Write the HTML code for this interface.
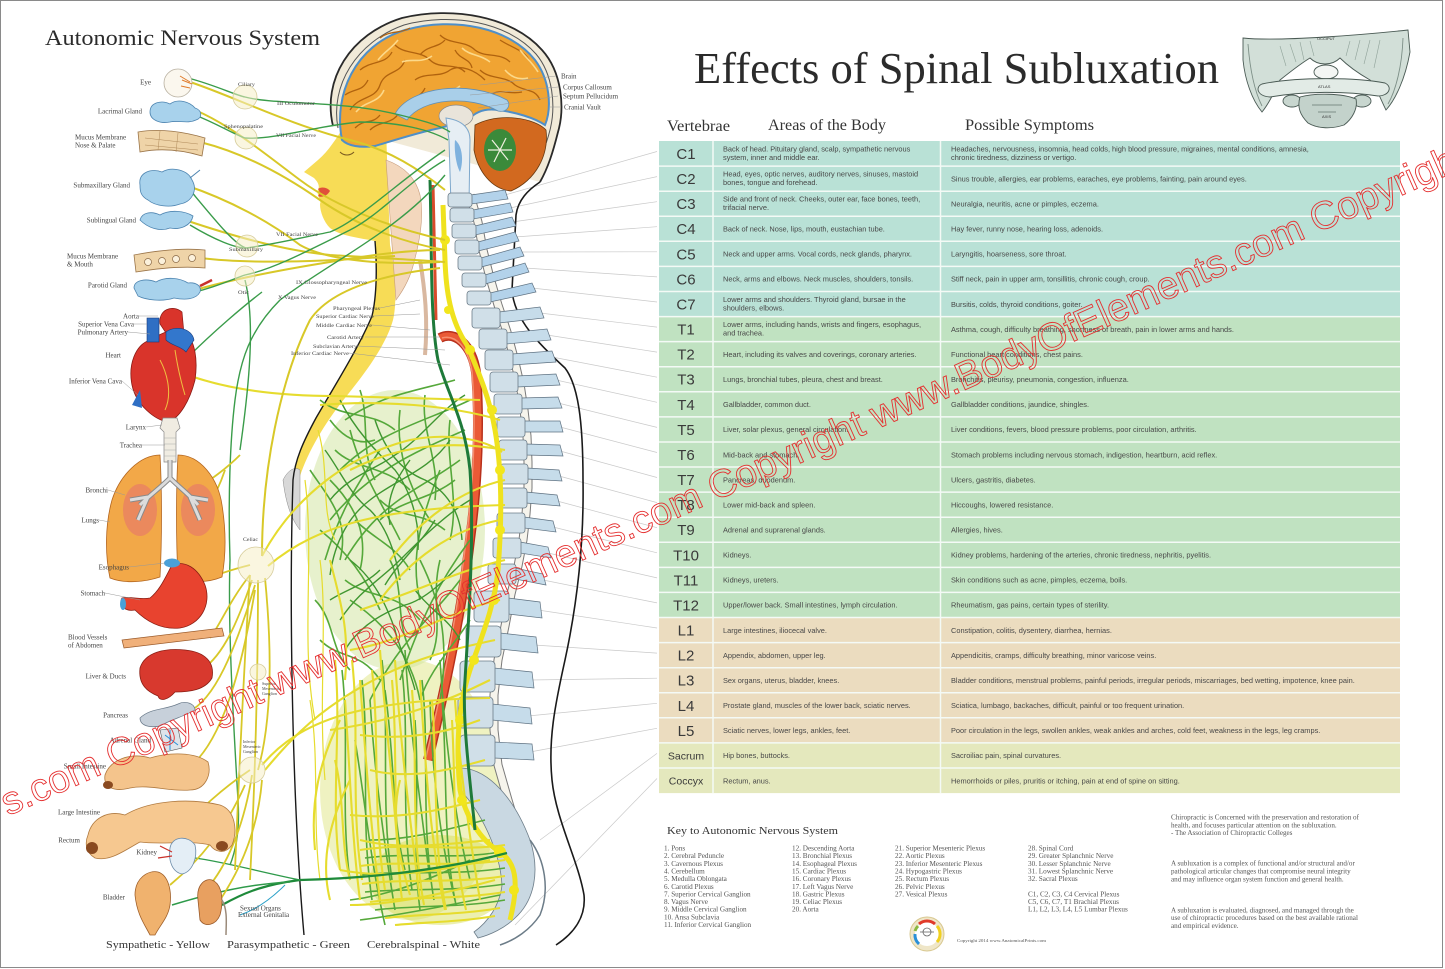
<!DOCTYPE html>
<html><head><meta charset="utf-8"><title>Effects of Spinal Subluxation</title>
<style>
html,body{margin:0;padding:0;background:#fff;}
svg{display:block;}
.sr{font-family:"Liberation Serif",serif;}
.ss{font-family:"Liberation Sans",sans-serif;}
</style></head><body>
<svg width="1445" height="969" viewBox="0 0 1445 969" xmlns="http://www.w3.org/2000/svg">
<rect x="0" y="0" width="1445" height="969" fill="#fff"/>
<rect x="0.5" y="0.5" width="1442" height="967" fill="none" stroke="#8a8a8a" stroke-width="1"/>

<!-- ============ RIGHT: TITLE ============ -->
<text class="sr" x="694" y="83" font-size="44" fill="#2b2b2b" textLength="525" lengthAdjust="spacingAndGlyphs">Effects of Spinal Subluxation</text>

<!-- skull (occiput/atlas/axis) -->
<g stroke="#4a5a54" stroke-width="0.9">
<path d="M1243,38 C1280,42 1370,34 1408,30 L1410,52 C1405,80 1395,100 1386,110 C1380,98 1376,86 1370,80 C1356,72 1346,64 1340,58 C1332,66 1318,66 1310,58 C1300,64 1290,72 1280,80 C1275,90 1270,102 1262,112 C1252,100 1245,80 1243,60 Z" fill="#d2dfd8"/>
<path d="M1248,44 C1250,70 1255,92 1262,106 M1403,38 C1402,66 1396,90 1388,104" fill="none" stroke="#7d8f87"/>
<g stroke="#90a39a" stroke-width="0.6" fill="none">
<path d="M1290,44 L1296,62 M1300,42 L1304,60 M1310,41 L1314,56 M1350,41 L1346,56 M1360,40 L1355,60 M1370,40 L1364,64 M1280,46 L1286,66 M1380,40 L1374,68"/>
</g>
<ellipse cx="1326" cy="72" rx="12" ry="7" fill="#f4f6f4"/>
<path d="M1262,84 C1295,77 1355,77 1385,83 C1393,87 1389,96 1378,96 C1345,91 1305,91 1270,97 C1257,96 1255,87 1262,84 Z" fill="#e2ebe6"/>
<ellipse cx="1292" cy="101" rx="9" ry="6" fill="#c8d6cf"/>
<ellipse cx="1362" cy="101" rx="9" ry="6" fill="#c8d6cf"/>
<path d="M1300,97 C1314,93 1342,93 1356,99 C1358,109 1352,119 1344,125 C1332,129 1318,129 1308,123 C1300,115 1297,107 1300,97 Z" fill="#c3d2cb"/>
<path d="M1312,105 L1342,105 M1318,112 L1336,112" stroke="#7d8f87" fill="none"/>
</g>
<text class="ss" x="1317" y="40" font-size="4" fill="#333">OCCIPUT</text>
<text class="ss" x="1318" y="88" font-size="4" fill="#333">ATLAS</text>
<text class="ss" x="1322" y="118" font-size="4" fill="#333">AXIS</text>

<!-- ============ TABLE HEADER ============ -->
<text class="sr" x="667" y="131" font-size="16" fill="#333" textLength="63" lengthAdjust="spacingAndGlyphs">Vertebrae</text>
<text class="sr" x="768" y="130" font-size="16" fill="#333" textLength="118" lengthAdjust="spacingAndGlyphs">Areas of the Body</text>
<text class="sr" x="965" y="130" font-size="16" fill="#333" textLength="129" lengthAdjust="spacingAndGlyphs">Possible Symptoms</text>

<!-- ============ TABLE ROWS ============ -->
<g>
<rect x="659" y="141" width="741" height="175.6" fill="#b9e1d6"/>
<rect x="659" y="316.6" width="741" height="300.9" fill="#c0e2c1"/>
<rect x="659" y="617.5" width="741" height="125.4" fill="#ebdcbf"/>
<rect x="659" y="742.9" width="741" height="50.2" fill="#e4e8bd"/>
</g>
<g stroke="#f4faf6" stroke-width="1.5">
<line x1="659" y1="166.1" x2="1400" y2="166.1"/><line x1="659" y1="191.2" x2="1400" y2="191.2"/>
<line x1="659" y1="216.2" x2="1400" y2="216.2"/><line x1="659" y1="241.3" x2="1400" y2="241.3"/>
<line x1="659" y1="266.4" x2="1400" y2="266.4"/><line x1="659" y1="291.5" x2="1400" y2="291.5"/>
<line x1="659" y1="316.6" x2="1400" y2="316.6"/><line x1="659" y1="341.6" x2="1400" y2="341.6"/>
<line x1="659" y1="366.7" x2="1400" y2="366.7"/><line x1="659" y1="391.8" x2="1400" y2="391.8"/>
<line x1="659" y1="416.9" x2="1400" y2="416.9"/><line x1="659" y1="442.0" x2="1400" y2="442.0"/>
<line x1="659" y1="467.0" x2="1400" y2="467.0"/><line x1="659" y1="492.1" x2="1400" y2="492.1"/>
<line x1="659" y1="517.2" x2="1400" y2="517.2"/><line x1="659" y1="542.3" x2="1400" y2="542.3"/>
<line x1="659" y1="567.4" x2="1400" y2="567.4"/><line x1="659" y1="592.4" x2="1400" y2="592.4"/>
<line x1="659" y1="617.5" x2="1400" y2="617.5"/><line x1="659" y1="642.6" x2="1400" y2="642.6"/>
<line x1="659" y1="667.7" x2="1400" y2="667.7"/><line x1="659" y1="692.8" x2="1400" y2="692.8"/>
<line x1="659" y1="717.8" x2="1400" y2="717.8"/><line x1="659" y1="742.9" x2="1400" y2="742.9"/>
<line x1="659" y1="768.0" x2="1400" y2="768.0"/>
<line x1="713" y1="141" x2="713" y2="793"/><line x1="940.5" y1="141" x2="940.5" y2="793"/>
</g>

<!-- vertebra labels -->
<g class="ss" font-size="15" fill="#3a3a3a" text-anchor="middle">
<text x="686" y="159">C1</text><text x="686" y="184.1">C2</text><text x="686" y="209.2">C3</text>
<text x="686" y="234.2">C4</text><text x="686" y="259.3">C5</text><text x="686" y="284.4">C6</text>
<text x="686" y="309.5">C7</text><text x="686" y="334.6">T1</text><text x="686" y="359.6">T2</text>
<text x="686" y="384.7">T3</text><text x="686" y="409.8">T4</text><text x="686" y="434.9">T5</text>
<text x="686" y="460">T6</text><text x="686" y="485">T7</text><text x="686" y="510.1">T8</text>
<text x="686" y="535.2">T9</text><text x="686" y="560.3">T10</text><text x="686" y="585.4">T11</text>
<text x="686" y="610.4">T12</text><text x="686" y="635.5">L1</text><text x="686" y="660.6">L2</text>
<text x="686" y="685.7">L3</text><text x="686" y="710.8">L4</text><text x="686" y="735.8">L5</text>
<text x="686" y="759.5" font-size="10.5">Sacrum</text><text x="686" y="784.6" font-size="10.5">Coccyx</text>
</g>

<!-- areas of body -->
<g class="ss" font-size="7.4" fill="#484848">
<text x="723" y="151.5">Back of head. Pituitary gland, scalp, sympathetic nervous</text>
<text x="723" y="160">system, inner and middle ear.</text>
<text x="723" y="176.6">Head, eyes, optic nerves, auditory nerves, sinuses, mastoid</text>
<text x="723" y="185.1">bones, tongue and forehead.</text>
<text x="723" y="201.7">Side and front of neck. Cheeks, outer ear, face bones, teeth,</text>
<text x="723" y="210.2">trifacial nerve.</text>
<text x="723" y="231.5">Back of neck. Nose, lips, mouth, eustachian tube.</text>
<text x="723" y="256.6">Neck and upper arms. Vocal cords, neck glands, pharynx.</text>
<text x="723" y="281.7">Neck, arms and elbows. Neck muscles, shoulders, tonsils.</text>
<text x="723" y="302">Lower arms and shoulders. Thyroid gland, bursae in the</text>
<text x="723" y="310.5">shoulders, elbows.</text>
<text x="723" y="327.1">Lower arms, including hands, wrists and fingers, esophagus,</text>
<text x="723" y="335.6">and trachea.</text>
<text x="723" y="356.9">Heart, including its valves and coverings, coronary arteries.</text>
<text x="723" y="382">Lungs, bronchial tubes, pleura, chest and breast.</text>
<text x="723" y="407.1">Gallbladder, common duct.</text>
<text x="723" y="432.2">Liver, solar plexus, general circulation.</text>
<text x="723" y="457.3">Mid-back and stomach.</text>
<text x="723" y="482.3">Pancreas, duodenum.</text>
<text x="723" y="507.4">Lower mid-back and spleen.</text>
<text x="723" y="532.5">Adrenal and suprarenal glands.</text>
<text x="723" y="557.6">Kidneys.</text>
<text x="723" y="582.7">Kidneys, ureters.</text>
<text x="723" y="607.7">Upper/lower back. Small intestines, lymph circulation.</text>
<text x="723" y="632.8">Large intestines, iliocecal valve.</text>
<text x="723" y="657.9">Appendix, abdomen, upper leg.</text>
<text x="723" y="683">Sex organs, uterus, bladder, knees.</text>
<text x="723" y="708.1">Prostate gland, muscles of the lower back, sciatic nerves.</text>
<text x="723" y="733.1">Sciatic nerves, lower legs, ankles, feet.</text>
<text x="723" y="758.2">Hip bones, buttocks.</text>
<text x="723" y="783.3">Rectum, anus.</text>
</g>

<!-- symptoms -->
<g class="ss" font-size="7.4" fill="#484848">
<text x="951" y="151.5">Headaches, nervousness, insomnia, head colds, high blood pressure, migraines, mental conditions, amnesia,</text>
<text x="951" y="160">chronic tiredness, dizziness or vertigo.</text>
<text x="951" y="181.5">Sinus trouble, allergies, ear problems, earaches, eye problems, fainting, pain around eyes.</text>
<text x="951" y="206.6">Neuralgia, neuritis, acne or pimples, eczema.</text>
<text x="951" y="231.5">Hay fever, runny nose, hearing loss, adenoids.</text>
<text x="951" y="256.6">Laryngitis, hoarseness, sore throat.</text>
<text x="951" y="281.7">Stiff neck, pain in upper arm, tonsillitis, chronic cough, croup.</text>
<text x="951" y="306.8">Bursitis, colds, thyroid conditions, goiter.</text>
<text x="951" y="331.9">Asthma, cough, difficulty breathing, shortness of breath, pain in lower arms and hands.</text>
<text x="951" y="356.9">Functional heart conditions, chest pains.</text>
<text x="951" y="382">Bronchitis, pleurisy, pneumonia, congestion, influenza.</text>
<text x="951" y="407.1">Gallbladder conditions, jaundice, shingles.</text>
<text x="951" y="432.2">Liver conditions, fevers, blood pressure problems, poor circulation, arthritis.</text>
<text x="951" y="457.3">Stomach problems including nervous stomach, indigestion, heartburn, acid reflex.</text>
<text x="951" y="482.3">Ulcers, gastritis, diabetes.</text>
<text x="951" y="507.4">Hiccoughs, lowered resistance.</text>
<text x="951" y="532.5">Allergies, hives.</text>
<text x="951" y="557.6">Kidney problems, hardening of the arteries, chronic tiredness, nephritis, pyelitis.</text>
<text x="951" y="582.7">Skin conditions such as acne, pimples, eczema, boils.</text>
<text x="951" y="607.7">Rheumatism, gas pains, certain types of sterility.</text>
<text x="951" y="632.8">Constipation, colitis, dysentery, diarrhea, hernias.</text>
<text x="951" y="657.9">Appendicitis, cramps, difficulty breathing, minor varicose veins.</text>
<text x="951" y="683">Bladder conditions, menstrual problems, painful periods, irregular periods, miscarriages, bed wetting, impotence, knee pain.</text>
<text x="951" y="708.1">Sciatica, lumbago, backaches, difficult, painful or too frequent urination.</text>
<text x="951" y="733.1">Poor circulation in the legs, swollen ankles, weak ankles and arches, cold feet, weakness in the legs, leg cramps.</text>
<text x="951" y="758.2">Sacroiliac pain, spinal curvatures.</text>
<text x="951" y="783.3">Hemorrhoids or piles, pruritis or itching, pain at end of spine on sitting.</text>
</g>

<!-- ============ KEY ============ -->
<text class="sr" x="667" y="834" font-size="10.5" fill="#333" textLength="171" lengthAdjust="spacingAndGlyphs">Key to Autonomic Nervous System</text>
<g class="sr" font-size="7.2" fill="#555">
<text x="664" y="850.5">1. Pons</text>
<text x="664" y="858.2">2. Cerebral Peduncle</text>
<text x="664" y="865.8">3. Cavernous Plexus</text>
<text x="664" y="873.5">4. Cerebellum</text>
<text x="664" y="881.1">5. Medulla Oblongata</text>
<text x="664" y="888.8">6. Carotid Plexus</text>
<text x="664" y="896.4">7. Superior Cervical Ganglion</text>
<text x="664" y="904.1">8. Vagus Nerve</text>
<text x="664" y="911.7">9. Middle Cervical Ganglion</text>
<text x="664" y="919.4">10. Ansa Subclavia</text>
<text x="664" y="927">11. Inferior Cervical Ganglion</text>
<text x="792" y="850.5">12. Descending Aorta</text>
<text x="792" y="858.2">13. Bronchial Plexus</text>
<text x="792" y="865.8">14. Esophageal Plexus</text>
<text x="792" y="873.5">15. Cardiac Plexus</text>
<text x="792" y="881.1">16. Coronary Plexus</text>
<text x="792" y="888.8">17. Left Vagus Nerve</text>
<text x="792" y="896.4">18. Gastric Plexus</text>
<text x="792" y="904.1">19. Celiac Plexus</text>
<text x="792" y="911.7">20. Aorta</text>
<text x="895" y="850.5">21. Superior Mesenteric Plexus</text>
<text x="895" y="858.2">22. Aortic Plexus</text>
<text x="895" y="865.8">23. Inferior Mesenteric Plexus</text>
<text x="895" y="873.5">24. Hypogastric Plexus</text>
<text x="895" y="881.1">25. Rectum Plexus</text>
<text x="895" y="888.8">26. Pelvic Plexus</text>
<text x="895" y="896.4">27. Vesical Plexus</text>
<text x="1028" y="850.5">28. Spinal Cord</text>
<text x="1028" y="858.2">29. Greater Splanchnic Nerve</text>
<text x="1028" y="865.8">30. Lesser Splanchnic Nerve</text>
<text x="1028" y="873.5">31. Lowest Splanchnic Nerve</text>
<text x="1028" y="881.1">32. Sacral Plexus</text>
<text x="1028" y="896.4">C1, C2, C3, C4 Cervical Plexus</text>
<text x="1028" y="904.1">C5, C6, C7, T1 Brachial Plexus</text>
<text x="1028" y="911.7">L1, L2, L3, L4, L5 Lumbar Plexus</text>
</g>
<!-- logo -->
<g>
<circle cx="927" cy="934" r="17" fill="#efe6c8" stroke="#d8c890" stroke-width="1"/>
<circle cx="927" cy="934" r="12" fill="#fff"/>
<path d="M919,924 A12,12 0 0 1 935,924" stroke="#e03a2a" stroke-width="3" fill="none"/>
<path d="M937,926 A12,12 0 0 1 937,942" stroke="#f0d020" stroke-width="3" fill="none"/>
<path d="M919,944 A12,12 0 0 1 915,934" stroke="#2a90d8" stroke-width="3" fill="none"/>
<path d="M915,931 A12,12 0 0 1 918,926" stroke="#8ab840" stroke-width="3" fill="none"/>
<circle cx="927" cy="932" r="4" fill="none" stroke="#666" stroke-width="0.8"/>
<line x1="920" y1="932" x2="934" y2="932" stroke="#666" stroke-width="0.8"/>
</g>
<text class="sr" x="957" y="942" font-size="4.2" fill="#555" textLength="89" lengthAdjust="spacingAndGlyphs">Copyright 2014 www.AnatomicalPrints.com</text>

<!-- right notes -->
<g class="sr" font-size="7.1" fill="#555">
<text x="1171" y="819.6">Chiropractic is Concerned with the preservation and restoration of</text>
<text x="1171" y="827.3">health, and focuses particular attention on the subluxation.</text>
<text x="1171" y="835.2">- The Association of Chiropractic Colleges</text>
<text x="1171" y="865.6">A subluxation is a complex of functional and/or structural and/or</text>
<text x="1171" y="873.5">pathological articular changes that compromise neural integrity</text>
<text x="1171" y="881.3">and may influence organ system function and general health.</text>
<text x="1171" y="912.3">A subluxation is evaluated, diagnosed, and managed through the</text>
<text x="1171" y="920.2">use of chiropractic procedures based on the best available rational</text>
<text x="1171" y="928.2">and empirical evidence.</text>
</g>

<!-- ============ LEFT ILLUSTRATION ============ -->
<text class="sr" x="45" y="45" font-size="22" fill="#2b2b2b" textLength="275" lengthAdjust="spacingAndGlyphs">Autonomic Nervous System</text>

<!-- leader lines spine to table -->
<g stroke="#c9c9c9" stroke-width="0.7" fill="none">
<line x1="505" y1="195" x2="657" y2="151.5"/>
<line x1="510" y1="208" x2="657" y2="176.6"/>
<line x1="512" y1="222" x2="657" y2="201.7"/>
<line x1="515" y1="237" x2="657" y2="226.7"/>
<line x1="520" y1="252" x2="657" y2="251.8"/>
<line x1="525" y1="268" x2="657" y2="276.9"/>
<line x1="532" y1="288" x2="657" y2="302"/>
<line x1="540" y1="313" x2="657" y2="327.1"/>
<line x1="547" y1="335" x2="657" y2="352.1"/>
<line x1="552" y1="357" x2="657" y2="377.2"/>
<line x1="556" y1="380" x2="657" y2="402.3"/>
<line x1="558" y1="403" x2="657" y2="427.4"/>
<line x1="560" y1="427" x2="657" y2="452.5"/>
<line x1="560" y1="451" x2="657" y2="477.5"/>
<line x1="559" y1="476" x2="657" y2="502.6"/>
<line x1="557" y1="501" x2="657" y2="527.7"/>
<line x1="553" y1="527" x2="657" y2="552.8"/>
<line x1="548" y1="553" x2="657" y2="577.9"/>
<line x1="543" y1="580" x2="657" y2="602.9"/>
<line x1="538" y1="610" x2="657" y2="628"/>
<line x1="534" y1="645" x2="657" y2="653.1"/>
<line x1="530" y1="680" x2="657" y2="678.2"/>
<line x1="528" y1="716" x2="657" y2="703.3"/>
<line x1="530" y1="752" x2="657" y2="728.3"/>
<line x1="540" y1="840" x2="657" y2="753.4"/>
<line x1="515" y1="925" x2="657" y2="778.5"/>
</g>

<!-- yellow face / neck / chest band -->
<path d="M346,124 C338,135 330,150 318,160 L304,172 L314,178 C318,182 320,186 318,190 C316,195 322,200 320,204 C320,212 324,222 330,228 C340,236 360,238 375,241 C377,265 377,295 372,316 C360,345 337,382 316,418 C303,442 296,458 293,476 L300,476 C308,452 324,424 345,398 C366,372 386,345 393,320 C398,300 394,262 390,245 L386,128 Z" fill="#f7dc56"/>
<path d="M318,189 C322,186 328,188 330,191 C327,196 322,198 318,196 C320,194 320,191 318,189 Z" fill="#e0503a"/>
<path d="M340,152 C344,156 350,156 354,152" stroke="#7a5a20" stroke-width="1" fill="none"/>
<path d="M386,160 C400,165 415,175 420,195 C424,215 420,240 414,262 C410,280 402,292 396,300 L392,245 Z" fill="#f3d7bd" stroke="#c69c7c" stroke-width="0.6"/>
<path d="M420,260 C425,290 428,320 425,355" stroke="#d9b8a0" stroke-width="4" fill="none"/>
<path d="M283,480 C288,470 295,466 300,470 L300,530 C292,520 286,505 283,480 Z" fill="#d8d8d8" stroke="#888" stroke-width="0.5"/>

<!-- skull and brain -->
<path d="M333,126 C322,80 350,34 402,18 C452,6 512,16 542,50 C562,72 565,108 558,132 C553,152 548,168 540,182" fill="#f1ead8" stroke="#2a2a2a" stroke-width="1.8"/>
<path d="M338,128 C330,86 356,42 404,25 C452,12 508,22 536,54 C553,74 556,106 550,130 C546,146 540,160 532,172" fill="none" stroke="#555" stroke-width="1"/>
<path d="M342,140 C333,95 355,45 405,30 C455,16 510,28 535,60 C550,80 552,108 545,125 C535,118 515,112 498,110 C485,108 475,112 468,120 L440,128 C420,132 395,140 375,146 C360,148 348,146 342,140 Z" fill="#f0a433" stroke="#4f8fc8" stroke-width="2"/>
<g stroke="#b0620e" stroke-width="1.3" fill="none">
<path d="M350,110 C360,95 375,100 380,85 C385,70 400,75 405,60"/>
<path d="M370,130 C380,120 395,125 400,110 C405,98 420,100 425,88"/>
<path d="M395,45 C405,55 420,50 430,60 C440,70 455,62 465,72"/>
<path d="M440,35 C450,45 465,40 475,50 C485,58 500,52 510,62"/>
<path d="M480,70 C490,80 505,75 515,85 C525,92 535,88 540,100"/>
<path d="M360,70 C372,60 385,65 392,52"/>
<path d="M415,80 C425,72 440,78 450,70 C460,64 475,70 485,80"/>
<path d="M500,40 C512,48 525,50 530,62"/>
<path d="M345,95 C355,88 362,92 368,80"/>
<path d="M380,38 C390,30 400,34 410,28"/>
<path d="M355,128 C365,118 372,125 380,115"/>
<path d="M455,50 C460,60 470,58 472,68"/>
<path d="M420,55 C428,45 438,48 445,40"/>
<path d="M490,95 C500,88 510,95 522,92"/>
</g>
<g stroke="#fcd98a" stroke-width="1.6" fill="none">
<path d="M356,112 C366,100 378,104 384,90"/>
<path d="M402,62 C412,58 420,64 432,56"/>
<path d="M462,48 C470,56 480,54 490,62"/>
<path d="M505,70 C512,78 520,80 528,78"/>
<path d="M378,60 C384,52 392,48 398,40"/>
<path d="M430,96 C440,90 450,94 460,86"/>
<path d="M520,50 C526,58 532,62 538,72"/>
</g>
<path d="M395,114 C410,86 470,80 507,100 C512,106 506,113 498,111 C470,95 422,98 407,120 Z" fill="#a9cfe9" stroke="#5e8fb8" stroke-width="0.8"/>
<ellipse cx="456" cy="116" rx="17" ry="11" fill="#e9e4da" stroke="#888" stroke-width="0.7"/>
<path d="M475,125 C500,112 535,118 546,130 C549,155 536,180 511,191 C491,189 478,171 474,150 Z" fill="#d2691f" stroke="#6a3a10" stroke-width="0.8"/>
<ellipse cx="500" cy="150" rx="16" ry="21" fill="#3b8a3a"/>
<path d="M492,140 L508,160 M506,138 L494,162 M488,150 L512,150" stroke="#f0f0e0" stroke-width="1.2"/>
<path d="M446,118 C460,120 470,126 470,140 L469,205 L451,205 L449,140 Z" fill="#e6eef4" stroke="#7ea8cc" stroke-width="1"/>
<path d="M455,140 C462,145 464,160 460,172 C456,165 454,150 455,140 Z" fill="#7fb2de"/>

<!-- body outline -->
<path d="M540,182 C528,190 518,200 516,215 L512,290 C514,320 540,345 565,368 C578,385 583,420 583,480 C584,540 578,600 565,660 C555,705 548,740 552,780 C556,820 578,860 584,895 C586,915 576,932 556,945" fill="none" stroke="#1a1a1a" stroke-width="1.6"/>
<path d="M375,241 C377,265 377,295 372,316 C360,345 337,382 316,418 C303,442 295,460 293,480 C289,600 292,800 304,935" fill="none" stroke="#1a1a1a" stroke-width="1.4"/>

<!-- translucent nerve mass tint -->
<ellipse cx="410" cy="790" rx="90" ry="130" fill="#d9e06c" opacity="0.42"/>
<ellipse cx="395" cy="530" rx="90" ry="140" fill="#cfe39c" opacity="0.5"/>
<ellipse cx="440" cy="880" rx="70" ry="45" fill="#d4dc50" opacity="0.45"/>

<!-- spinal canal -->
<polyline points="470,195 478,222 483,250 490,278 498,305 507,332 514,358 520,384 524,410 527,436 528,462 528,488 526,514 523,540 518,566 511,594 505,626 498,660 494,695 494,730 498,765 508,800 520,840" fill="none" stroke="#7a7a7a" stroke-width="9"/>
<polyline points="470,195 478,222 483,250 490,278 498,305 507,332 514,358 520,384 524,410 527,436 528,462 528,488 526,514 523,540 518,566 511,594 505,626 498,660 494,695 494,730 498,765 508,800 520,840" fill="none" stroke="#f6f4ec" stroke-width="7"/>

<!-- spinous processes -->
<g fill="#b3d2ea" stroke="#5f7282" stroke-width="0.7">
<path d="M471,195 L505,190 L508,199 L471,204 Z"/>
<path d="M473,210 L510,203 L513,212 L473,219 Z"/>
<path d="M475,226 L512,217 L516,226 L475,235 Z"/>
<path d="M478,242 L515,232 L519,241 L478,251 Z"/>
<path d="M481,258 L520,247 L524,256 L481,267 Z"/>
<path d="M485,275 L525,263 L529,272 L485,284 Z"/>
<path d="M490,293 L532,283 L536,292 L490,302 Z"/>
</g>
<g fill="#c6dcea" stroke="#5f7282" stroke-width="0.7">
<path d="M499,312 L540,307 L544,318 L499,323 Z"/>
<path d="M506,333 L547,329 L551,340 L506,344 Z"/>
<path d="M512,354 L552,351 L556,362 L512,365 Z"/>
<path d="M517,376 L556,374 L560,385 L517,387 Z"/>
<path d="M521,398 L558,397 L562,408 L521,409 Z"/>
<path d="M524,421 L560,421 L563,432 L524,432 Z"/>
<path d="M526,444 L560,445 L563,456 L526,455 Z"/>
<path d="M527,468 L559,470 L562,481 L527,479 Z"/>
<path d="M526,492 L557,495 L560,506 L526,503 Z"/>
<path d="M524,517 L553,521 L556,532 L524,528 Z"/>
<path d="M520,542 L548,547 L551,558 L520,553 Z"/>
<path d="M515,568 L543,574 L546,585 L515,579 Z"/>
<path d="M508,598 L540,602 L542,618 L508,614 Z"/>
<path d="M500,633 L536,637 L538,653 L500,649 Z"/>
<path d="M494,668 L532,672 L534,688 L494,684 Z"/>
<path d="M492,704 L530,708 L532,724 L492,720 Z"/>
<path d="M494,742 L532,744 L534,760 L494,758 Z"/>
</g>
<!-- vertebral bodies -->
<g fill="#d0dfe8" stroke="#6c7c88" stroke-width="0.8">
<rect x="448" y="193" width="24" height="14" rx="3"/>
<rect x="450" y="208" width="24" height="14" rx="3"/>
<rect x="452" y="224" width="24" height="14" rx="3"/>
<rect x="455" y="240" width="24" height="14" rx="3"/>
<rect x="458" y="256" width="24" height="14" rx="3"/>
<rect x="462" y="273" width="24" height="14" rx="3"/>
<rect x="467" y="291" width="24" height="14" rx="3"/>
<rect x="472" y="308" width="28" height="20" rx="3"/>
<rect x="479" y="329" width="28" height="20" rx="3"/>
<rect x="485" y="350" width="28" height="20" rx="3"/>
<rect x="490" y="372" width="28" height="20" rx="3"/>
<rect x="494" y="394" width="28" height="20" rx="3"/>
<rect x="497" y="417" width="28" height="20" rx="3"/>
<rect x="499" y="440" width="28" height="20" rx="3"/>
<rect x="500" y="464" width="28" height="20" rx="3"/>
<rect x="499" y="488" width="28" height="20" rx="3"/>
<rect x="497" y="513" width="28" height="20" rx="3"/>
<rect x="493" y="538" width="28" height="20" rx="3"/>
<rect x="488" y="564" width="28" height="20" rx="3"/>
<rect x="474" y="591" width="35" height="31" rx="4"/>
<rect x="466" y="626" width="35" height="31" rx="4"/>
<rect x="460" y="661" width="35" height="31" rx="4"/>
<rect x="458" y="697" width="35" height="31" rx="4"/>
<rect x="460" y="735" width="35" height="31" rx="4"/>
</g>
<!-- sacrum / coccyx -->
<path d="M462,768 C490,770 515,800 530,840 C540,870 535,900 515,918 C505,928 490,935 478,938 L474,932 C488,922 500,905 502,885 C500,850 480,810 460,790 Z" fill="#c9d8e2" stroke="#6c7c88" stroke-width="0.8"/>
<path d="M530,840 C545,860 550,890 540,915 C530,930 515,940 500,945" fill="none" stroke="#6c7c88" stroke-width="1.5"/>

<!-- aorta -->
<path d="M433,185 L436,320" stroke="#d84a2a" stroke-width="3" fill="none"/>
<path d="M440,338 C455,330 472,345 476,372 C480,420 478,480 470,540 C462,610 445,690 428,760" stroke="#b8301c" stroke-width="10" fill="none"/>
<path d="M440,338 C455,330 472,345 476,372 C480,420 478,480 470,540 C462,610 445,690 428,760" stroke="#ea5a36" stroke-width="7" fill="none"/>
<path d="M442,338 C455,334 468,347 472,372 C476,420 474,480 466,540 C458,610 442,690 426,757" stroke="#f59070" stroke-width="1.5" fill="none"/>

<!-- nerve network: green -->
<g stroke="#55a83a" stroke-width="1.6" fill="none">
<path d="M470,400 C430,420 380,430 340,470"/>
<path d="M465,430 C420,450 370,470 330,520"/>
<path d="M460,460 C420,490 380,500 345,560"/>
<path d="M455,380 C420,390 380,395 345,420"/>
<path d="M350,430 C360,470 380,500 400,540"/>
<path d="M400,410 C395,450 410,490 430,520"/>
<path d="M330,480 C350,500 370,530 360,570"/>
<path d="M440,470 C420,520 410,560 420,600"/>
<path d="M380,450 C360,480 340,510 325,560"/>
<path d="M470,540 C440,580 420,620 400,680"/>
<path d="M460,580 C430,620 400,640 370,700"/>
<path d="M420,560 C440,600 450,640 440,700"/>
<path d="M350,600 C380,620 410,650 420,700"/>
<path d="M330,420 C345,440 360,445 375,440"/>
<path d="M355,520 C375,540 395,545 410,570"/>
<path d="M320,400 C345,420 370,410 395,430"/>
<path d="M335,450 C355,470 385,465 410,490"/>
<path d="M310,470 C330,500 350,520 340,560"/>
<path d="M360,390 C370,420 360,450 375,480"/>
<path d="M425,395 C420,430 440,460 435,500"/>
<path d="M450,420 C445,460 460,500 450,540"/>
<path d="M320,530 C345,550 365,575 380,610"/>
<path d="M345,580 C370,600 395,590 420,620"/>
<path d="M390,560 C405,590 395,620 410,650"/>
<path d="M440,560 C430,600 445,630 430,660"/>
<path d="M315,600 C335,620 330,650 350,670"/>
<path d="M470,620 C450,650 430,670 420,700"/>
<path d="M380,500 C400,520 420,510 445,530"/>
<path d="M320,640 C340,660 360,650 380,680"/>
<path d="M455,480 C430,500 400,500 380,520"/>
<path d="M342,670 C350,740 340,810 350,880"/>
<path d="M362,680 C370,750 360,820 372,900"/>
<path d="M382,660 C390,730 380,800 392,880"/>
<path d="M402,670 C410,740 400,810 412,890"/>
<path d="M422,680 C430,750 420,820 434,900"/>
<path d="M442,700 C448,770 442,840 456,905"/>
<path d="M405,650 C410,730 420,800 430,880"/>
<path d="M430,700 C432,770 440,840 455,900"/>
<path d="M370,700 C375,780 385,850 395,910"/>
<path d="M440,660 C445,740 455,820 470,880"/>
<path d="M500,895 C450,905 400,915 360,920"/>
<path d="M485,820 C445,830 410,840 370,840"/>
<path d="M385,690 C395,760 392,820 405,870"/>
<path d="M415,720 C420,790 412,850 420,910"/>
<path d="M355,740 C365,800 370,860 385,925"/>
<path d="M470,860 C430,880 390,895 350,900"/>
<path d="M500,852 C455,860 410,852 365,858"/>
<path d="M505,868 C455,876 405,870 360,875"/>
<path d="M505,884 C455,892 405,888 365,892"/>
<path d="M505,900 C460,908 415,905 375,910"/>
</g>
<g stroke="#3f9630" stroke-width="1.4" fill="none">
<path d="M465,395 C440,410 420,440 395,455 C375,470 350,475 330,500"/>
<path d="M450,440 C430,470 395,480 370,500 C350,515 335,540 330,575"/>
<path d="M470,500 C445,515 420,540 400,560 C380,580 360,590 340,620"/>
<path d="M465,560 C445,580 425,600 405,605 C385,612 360,625 345,650"/>
<path d="M340,400 C355,430 375,450 395,470 C410,490 420,520 418,550"/>
<path d="M375,420 C385,450 400,470 425,480 C445,490 460,510 462,540"/>
<path d="M325,450 C340,470 350,495 370,510 C385,525 395,550 400,580"/>
<path d="M350,560 C370,575 385,600 395,630 C400,650 410,670 415,690"/>
<path d="M415,590 C430,610 450,620 460,640"/>
<path d="M330,600 C345,590 365,585 380,570"/>
<path d="M410,460 C395,480 385,500 390,525"/>
<path d="M435,520 C420,545 400,560 385,585"/>
</g>
<!-- nerve network: yellow -->
<g stroke="#e6dc2e" stroke-width="2.1" fill="none">
<path d="M500,420 C450,405 380,400 320,405"/>
<path d="M505,450 C450,440 400,445 350,470"/>
<path d="M505,480 C460,490 420,520 390,560"/>
<path d="M500,520 C450,530 410,560 380,600"/>
<path d="M505,560 C460,570 420,590 360,610"/>
<path d="M500,600 C450,610 410,640 350,650"/>
<path d="M330,560 C340,600 350,630 345,680"/>
<path d="M495,640 C450,650 400,660 340,700"/>
<path d="M490,680 C450,700 400,720 330,730"/>
<path d="M380,650 C385,720 395,800 400,880"/>
<path d="M395,660 C400,740 410,820 420,900"/>
<path d="M420,680 C425,760 430,840 445,910"/>
<path d="M360,680 C365,750 370,820 380,900"/>
<path d="M345,700 C350,770 352,840 360,900"/>
<path d="M455,700 C460,770 470,840 480,900"/>
<path d="M335,660 C342,730 330,800 340,870"/>
<path d="M352,660 C360,730 350,800 362,880"/>
<path d="M372,670 C380,740 372,810 385,890"/>
<path d="M392,680 C398,750 392,820 402,900"/>
<path d="M412,690 C418,760 410,830 424,905"/>
<path d="M432,700 C438,770 432,840 446,910"/>
<path d="M452,720 C456,790 452,850 466,910"/>
<path d="M490,860 C440,870 390,880 340,870"/>
<path d="M495,880 C440,895 390,905 350,905"/>
<path d="M490,840 C440,845 400,850 360,840"/>
<path d="M480,800 C440,810 400,820 350,815"/>
<path d="M485,760 C450,770 410,780 370,770"/>
<path d="M480,720 C440,735 400,740 360,735"/>
<path d="M505,845 C460,852 410,842 360,850"/>
<path d="M505,860 C455,868 405,860 360,866"/>
<path d="M505,876 C455,884 405,878 362,884"/>
<path d="M505,892 C455,900 410,896 370,902"/>
<path d="M500,908 C460,915 420,914 385,918"/>
<path d="M495,916 C460,922 425,922 395,925"/>
<path d="M340,720 C320,760 310,800 315,850"/>
<path d="M350,780 C330,820 320,860 330,900"/>
<path d="M335,760 C345,800 340,840 350,880"/>
<path d="M400,780 C390,820 400,860 410,895"/>
<path d="M340,700 C310,720 290,740 265,770"/>
<path d="M180,372 C220,388 270,396 335,396 L480,400"/>
<path d="M262,556 C295,495 350,455 410,440 C450,432 485,440 502,452"/>
<path d="M268,566 C320,522 390,508 505,505"/>
<path d="M262,765 C300,720 360,700 490,698"/>
</g>
<g stroke="#e6dc2e" stroke-width="1.2" fill="none">
<path d="M305,480 C315,560 300,640 315,720"/>
<path d="M320,560 C328,620 318,700 325,780"/>
<path d="M310,700 C320,760 312,820 320,880"/>
<path d="M318,430 C330,470 320,510 335,540"/>
</g>
<!-- sympathetic chain -->
<path d="M443,205 L445,260 C446,290 450,320 467,345 C480,375 490,400 495,430 C502,470 502,520 498,570 C494,610 480,640 470,670 C460,700 455,740 460,790 C465,815 480,840 500,852 C515,862 520,880 510,920" fill="none" stroke="#efe21e" stroke-width="5"/>
<g fill="#f2e61c">
<circle cx="445" cy="240" r="5"/><circle cx="448" cy="310" r="4"/><circle cx="470" cy="350" r="5"/>
<circle cx="492" cy="410" r="5"/><circle cx="500" cy="470" r="5"/><circle cx="500" cy="530" r="5"/>
<circle cx="494" cy="600" r="5"/><circle cx="474" cy="660" r="5"/><circle cx="460" cy="720" r="5"/>
<circle cx="462" cy="800" r="5"/><circle cx="500" cy="852" r="6"/><circle cx="514" cy="890" r="5"/>
</g>
<!-- vagus -->
<path d="M430,180 C432,250 430,320 438,360 C448,395 465,420 470,470 C474,530 470,600 465,680 C462,720 470,780 475,830" fill="none" stroke="#1e7a3a" stroke-width="3"/>
<path d="M507,853 C450,868 380,878 300,880 C260,885 240,895 222,905" fill="none" stroke="#1e8a3a" stroke-width="2.2"/>
<path d="M290,882 C250,884 215,892 172,905" fill="none" stroke="#2e9a4a" stroke-width="1.5"/>
<path d="M300,880 C260,872 225,862 195,858" fill="none" stroke="#2e9a4a" stroke-width="1.3"/>
<path d="M285,885 C270,900 255,910 240,915" fill="none" stroke="#2aa0c8" stroke-width="1"/>

<!-- head nerves -->
<g stroke="#d8c828" stroke-width="2" fill="none">
<path d="M190,82 C230,95 290,125 350,140 C390,150 420,170 445,190"/>
<path d="M195,110 C230,125 260,150 300,180 C340,210 400,230 445,240"/>
<path d="M200,142 C240,152 280,172 320,200 C360,228 410,244 445,250"/>
<path d="M185,185 C230,200 270,222 300,245 C330,262 390,265 440,262"/>
<path d="M185,220 C230,235 280,250 330,255 C380,258 420,260 445,262"/>
<path d="M200,258 C250,264 320,262 395,256"/>
<path d="M195,290 C230,280 280,270 330,262 C370,255 410,250 440,250"/>
<path d="M262,556 C262,470 280,380 310,320 C330,290 380,275 440,268"/>
</g>
<g stroke="#3a9c4a" stroke-width="1.4" fill="none">
<path d="M188,78 C215,85 235,95 245,97 C275,105 340,100 400,115 C420,120 440,125 450,132"/>
<path d="M195,115 C220,125 235,135 245,138 C275,140 320,125 360,122 C400,122 430,130 448,140"/>
<path d="M190,190 C215,220 235,245 246,248 C270,245 300,238 330,232 C360,220 400,180 445,150"/>
<path d="M190,225 C215,240 235,248 246,248"/>
<path d="M195,292 C220,286 235,278 245,275 C270,270 300,255 350,230 C380,215 410,180 445,160"/>
<path d="M445,175 C400,230 330,262 280,300 C250,330 240,360 235,400 C230,440 228,500 230,560"/>
<path d="M245,280 C255,320 250,380 240,450"/>
<path d="M230,560 C228,620 232,700 238,800 C240,830 236,850 230,865"/>
<path d="M185,360 C215,330 245,305 262,292"/>
</g>
<!-- organ nerves from celiac etc -->
<g stroke="#d8c828" stroke-width="1.8" fill="none">
<path d="M250,565 C230,570 215,575 200,582"/>
<path d="M250,575 C230,600 220,625 210,638"/>
<path d="M252,580 C235,630 220,660 198,672"/>
<path d="M255,585 C235,650 215,700 188,712"/>
<path d="M255,590 C240,680 220,740 192,765"/>
<path d="M250,770 C220,790 200,810 180,830"/>
<path d="M250,575 C245,650 240,750 235,870"/>
<path d="M258,580 C258,680 255,780 250,880"/>
<path d="M265,578 C272,650 272,720 258,770"/>
<path d="M252,775 C245,820 230,860 210,885"/>
<path d="M262,780 C258,830 240,870 220,900"/>
<path d="M245,785 C225,830 200,860 170,885"/>
<path d="M225,470 C215,500 200,520 185,530"/>
<path d="M240,455 C225,470 210,480 195,490"/>
</g>

<!-- ganglion circles -->
<g fill="#f6eec6" fill-opacity="0.55" stroke="#d6cc9a" stroke-width="0.8">
<circle cx="245" cy="97" r="12"/>
<circle cx="246" cy="138" r="11"/>
<circle cx="247" cy="246" r="11"/>
<circle cx="245" cy="276" r="10"/>
<circle cx="256" cy="565" r="18"/>
<circle cx="258" cy="672" r="8"/>
<circle cx="252" cy="770" r="13"/>
</g>

<!-- ============ ORGANS ============ -->
<circle cx="178" cy="83" r="14" fill="#fbf7ee" stroke="#b8b0a0" stroke-width="0.8"/>
<path d="M180,76 L190,82 M182,80 L192,84 M181,86 L190,88" stroke="#e07a2a" stroke-width="1"/>
<path d="M150,112 C150,102 162,100 170,104 C178,98 190,102 195,108 C202,110 203,118 196,120 C188,124 178,120 170,122 C160,124 150,120 150,112Z" fill="#a8d2ec" stroke="#4d84b0" stroke-width="0.8"/>
<path d="M138,132 C160,128 185,132 205,138 L202,156 C182,150 160,148 140,152 Z" fill="#efd4a8" stroke="#9a7448" stroke-width="0.8"/>
<path d="M145,138 L198,144 M145,145 L198,150 M160,131 L158,150 M178,133 L176,152" stroke="#b08a5a" stroke-width="0.5"/>
<path d="M140,185 C138,172 152,168 162,172 C172,166 188,170 192,180 C198,190 192,202 180,204 C170,208 155,206 148,200 C140,196 140,190 140,185Z" fill="#a8d2ec" stroke="#4d84b0" stroke-width="0.8"/>
<path d="M190,178 L200,170" stroke="#4d84b0" stroke-width="1"/>
<path d="M140,220 C142,212 152,211 160,215 C170,209 185,211 193,216 C191,226 180,230 170,228 C160,232 148,228 140,220Z" fill="#a8d2ec" stroke="#4d84b0" stroke-width="0.8"/>
<path d="M134,255 C160,250 185,248 205,250 L205,268 C185,266 160,268 136,272 Z" fill="#efd4a8" stroke="#9a7448" stroke-width="0.8"/>
<g fill="#fbf1dc" stroke="#8a6a48" stroke-width="0.7">
<circle cx="148" cy="262" r="3.5"/><circle cx="162" cy="261" r="3.5"/><circle cx="176" cy="259" r="3.5"/><circle cx="192" cy="258" r="3.5"/>
</g>
<path d="M134,288 C134,280 146,278 156,282 C166,276 180,278 188,283 C196,282 202,286 200,292 C196,300 184,300 174,298 C162,302 146,300 138,296 Z" fill="#a8d2ec" stroke="#4d84b0" stroke-width="0.8"/>
<path d="M200,286 L212,280" stroke="#c8302a" stroke-width="2.5"/>
<!-- heart -->
<path d="M160,324 C158,310 172,304 182,312 L184,334 L168,336 Z" fill="#d9342b" stroke="#8a1a14" stroke-width="0.7"/>
<path d="M150,340 C135,345 128,365 132,385 C136,405 155,420 168,422 C180,418 190,400 195,380 C198,360 195,340 185,332 C175,326 160,334 150,340 Z" fill="#d9342b" stroke="#8a1a14" stroke-width="0.8"/>
<rect x="147" y="318" width="12" height="24" fill="#2f6fc4" stroke="#1a3a7a" stroke-width="0.6"/>
<path d="M166,332 C175,325 192,328 194,340 L186,352 C181,346 172,346 166,340Z" fill="#3377cc" stroke="#1a3a7a" stroke-width="0.6"/>
<path d="M140,390 L132,405 L142,408 Z" fill="#2f6fc4"/>
<path d="M160,360 C168,375 172,395 165,410 M175,350 C178,370 182,385 185,395" stroke="#f0c040" stroke-width="1" fill="none"/>
<!-- larynx trachea -->
<path d="M163,418 L177,418 L180,428 L176,432 L176,462 L164,462 L164,432 L160,428 Z" fill="#f0ece2" stroke="#888" stroke-width="0.7"/>
<path d="M164,438 L176,438 M164,444 L176,444 M164,450 L176,450 M164,456 L176,456" stroke="#aaa" stroke-width="0.6"/>
<!-- lungs -->
<path d="M160,455 C140,455 120,475 112,500 C105,525 105,555 110,578 C125,584 145,582 160,577 C162,540 162,490 160,455 Z" fill="#f2a848" stroke="#b3651e" stroke-width="0.8"/>
<path d="M178,455 C200,455 218,478 222,505 C226,530 226,555 222,577 C205,584 188,582 178,577 C176,540 176,490 178,455 Z" fill="#f2a848" stroke="#b3651e" stroke-width="0.8"/>
<ellipse cx="140" cy="510" rx="17" ry="26" fill="#e67868" opacity="0.65"/>
<ellipse cx="198" cy="510" rx="17" ry="26" fill="#e67868" opacity="0.65"/>
<path d="M170,460 L170,478 M170,478 C160,488 150,495 140,505 M170,478 C180,488 190,495 198,505 M148,497 L138,520 M148,497 L130,500 M190,497 L200,520 M190,497 L208,500" stroke="#8a8a8a" stroke-width="5" fill="none"/>
<path d="M170,460 L170,478 M170,478 C160,488 150,495 140,505 M170,478 C180,488 190,495 198,505 M148,497 L138,520 M148,497 L130,500 M190,497 L200,520 M190,497 L208,500" stroke="#dcdcdc" stroke-width="3" fill="none"/>
<!-- stomach etc -->
<path d="M172,565 C185,560 198,568 205,585 C212,605 200,625 180,628 C160,630 145,620 135,610 C125,612 118,605 122,598 C130,596 140,600 150,598 C160,590 165,578 172,565 Z" fill="#e8432f" stroke="#8a1e14" stroke-width="0.8"/>
<ellipse cx="172" cy="563" rx="8" ry="4.5" fill="#4aa0d8"/>
<ellipse cx="123" cy="604" rx="3" ry="6" fill="#4aa0d8"/>
<path d="M122,640 L222,628 L224,636 L124,648 Z" fill="#f0b07a" stroke="#9a5a2a" stroke-width="0.7"/>
<path d="M140,668 C145,652 165,648 185,650 C205,652 215,662 212,678 C205,690 190,692 175,692 C168,700 160,702 158,696 C148,692 138,685 140,668 Z" fill="#d8392e" stroke="#8a1e14" stroke-width="0.8"/>
<path d="M140,718 C150,708 165,710 178,704 C186,700 195,704 195,710 C185,716 170,720 160,726 C150,728 140,726 140,718Z" fill="#c7d0da" stroke="#6a7a8a" stroke-width="0.7"/>
<path d="M160,730 L178,728 L182,748 L165,752 Z" fill="#dde4ea" stroke="#555" stroke-width="0.6"/>
<path d="M165,735 L178,745 M170,730 L170,750" stroke="#2a90d8" stroke-width="1"/>
<path d="M105,775 C110,760 130,752 150,758 C170,752 195,752 208,762 C212,775 205,790 190,790 C170,792 150,784 130,788 C115,792 103,788 105,775 Z" fill="#f4c48c" stroke="#b07a40" stroke-width="0.8"/>
<ellipse cx="108" cy="785" rx="5" ry="4" fill="#8a4a20"/>
<path d="M88,835 C92,818 108,810 125,815 C150,800 190,798 220,805 C235,810 238,830 232,845 C225,855 215,852 210,845 C190,840 160,845 140,842 C125,850 110,862 95,858 C85,852 85,842 88,835 Z" fill="#f6c890" stroke="#b07a40" stroke-width="0.8"/>
<ellipse cx="92" cy="848" rx="6" ry="6" fill="#8a4a20"/>
<ellipse cx="222" cy="846" rx="6" ry="5" fill="#8a4a20"/>
<path d="M170,848 C172,836 188,835 195,845 C198,858 192,872 182,874 C172,872 168,860 170,848 Z" fill="#e4eef6" stroke="#6a8aa8" stroke-width="0.8"/>
<path d="M172,852 L160,846 M172,856 L158,858" stroke="#c8302a" stroke-width="1.2"/>
<path d="M135,895 C135,878 148,870 158,872 C168,875 172,890 170,905 C168,918 160,925 155,935 L150,935 C145,925 137,915 135,895 Z" fill="#f0b26e" stroke="#a0602a" stroke-width="0.8"/>
<path d="M198,900 C196,885 205,878 212,880 C222,884 224,900 220,915 C216,925 205,928 200,920 Z" fill="#e8a060" stroke="#9a5a2a" stroke-width="0.8"/>
<path d="M222,900 C228,910 226,925 226,935" stroke="#9a8a7a" stroke-width="1.5" fill="none"/>

<!-- organ leader lines -->
<g stroke="#999" stroke-width="0.5">
<line x1="139" y1="316" x2="158" y2="316"/><line x1="134" y1="324" x2="147" y2="324"/>
<line x1="128" y1="332" x2="150" y2="334"/><line x1="122" y1="381" x2="138" y2="395"/>
<line x1="146" y1="427" x2="162" y2="425"/><line x1="142" y1="445" x2="165" y2="445"/>
<line x1="108" y1="490" x2="125" y2="495"/><line x1="99" y1="520" x2="110" y2="522"/>
<line x1="129" y1="567" x2="165" y2="563"/><line x1="105" y1="593" x2="140" y2="600"/>
<line x1="365" y1="337" x2="440" y2="337"/><line x1="357" y1="346" x2="445" y2="350"/>
<line x1="380" y1="308" x2="420" y2="300"/><line x1="374" y1="316" x2="420" y2="314"/>
<line x1="372" y1="325" x2="430" y2="330"/><line x1="349" y1="353" x2="450" y2="365"/>
<line x1="556" y1="76" x2="480" y2="85"/><line x1="558" y1="87" x2="470" y2="95"/>
<line x1="558" y1="96" x2="478" y2="108"/><line x1="560" y1="107" x2="550" y2="107"/>
</g>

<!-- labels -->
<g class="sr" font-size="7" fill="#444">
<text x="151" y="84.5" text-anchor="end">Eye</text>
<text x="142" y="113.5" text-anchor="end">Lacrimal Gland</text>
<text x="75" y="139.5">Mucus Membrane</text>
<text x="75" y="147.5">Nose &amp; Palate</text>
<text x="130" y="187.5" text-anchor="end">Submaxillary Gland</text>
<text x="136" y="222.5" text-anchor="end">Sublingual Gland</text>
<text x="67" y="258.5">Mucus Membrane</text>
<text x="67" y="266.5">&amp; Mouth</text>
<text x="127" y="287.5" text-anchor="end">Parotid Gland</text>
<text x="139" y="318.5" text-anchor="end">Aorta</text>
<text x="134" y="326.5" text-anchor="end">Superior Vena Cava</text>
<text x="128" y="334.5" text-anchor="end">Pulmonary Artery</text>
<text x="121" y="357.5" text-anchor="end">Heart</text>
<text x="122" y="383.5" text-anchor="end">Inferior Vena Cava</text>
<text x="146" y="429.5" text-anchor="end">Larynx</text>
<text x="142" y="447.5" text-anchor="end">Trachea</text>
<text x="108" y="492.5" text-anchor="end">Bronchi</text>
<text x="99" y="522.5" text-anchor="end">Lungs</text>
<text x="129" y="569.5" text-anchor="end">Esophagus</text>
<text x="105" y="595.5" text-anchor="end">Stomach</text>
<text x="68" y="639.5">Blood Vessels</text>
<text x="68" y="647.5">of Abdomen</text>
<text x="126" y="678.5" text-anchor="end">Liver &amp; Ducts</text>
<text x="128" y="717.5" text-anchor="end">Pancreas</text>
<text x="151" y="742.5" text-anchor="end">Adrenal Gland</text>
<text x="106" y="768.5" text-anchor="end">Small Intestine</text>
<text x="100" y="814.5" text-anchor="end">Large Intestine</text>
<text x="80" y="842.5" text-anchor="end">Rectum</text>
<text x="157" y="854.5" text-anchor="end">Kidney</text>
<text x="125" y="899.5" text-anchor="end">Bladder</text>
<text x="240" y="910.5">Sexual Organs</text>
<text x="238" y="917">External Genitalia</text>
<text x="561" y="78.5">Brain</text>
<text x="563" y="89.5">Corpus Callosum</text>
<text x="563" y="98.5">Septum Pellucidum</text>
<text x="564" y="109.5">Cranial Vault</text>
</g>
<g class="sr" font-size="5" fill="#444">
<text x="238" y="86" textLength="17" lengthAdjust="spacingAndGlyphs">Ciliary</text>
<text x="277" y="105" textLength="38" lengthAdjust="spacingAndGlyphs">III Oculomotor</text>
<text x="224" y="128" textLength="39" lengthAdjust="spacingAndGlyphs">Sphenopalatine</text>
<text x="276" y="137" textLength="40" lengthAdjust="spacingAndGlyphs">VII Facial Nerve</text>
<text x="276" y="236" textLength="42" lengthAdjust="spacingAndGlyphs">VII Facial Nerve</text>
<text x="229" y="251" textLength="34" lengthAdjust="spacingAndGlyphs">Submaxillary</text>
<text x="296" y="284" textLength="71" lengthAdjust="spacingAndGlyphs">IX Glossopharyngeal Nerve</text>
<text x="238" y="294" textLength="11" lengthAdjust="spacingAndGlyphs">Otic</text>
<text x="278" y="299" textLength="38" lengthAdjust="spacingAndGlyphs">X Vagus Nerve</text>
<text x="333" y="310" textLength="47" lengthAdjust="spacingAndGlyphs">Pharyngeal Plexus</text>
<text x="316" y="318" textLength="58" lengthAdjust="spacingAndGlyphs">Superior Cardiac Nerve</text>
<text x="316" y="327" textLength="56" lengthAdjust="spacingAndGlyphs">Middle Cardiac Nerve</text>
<text x="327" y="339" textLength="37" lengthAdjust="spacingAndGlyphs">Carotid Artery</text>
<text x="313" y="348" textLength="44" lengthAdjust="spacingAndGlyphs">Subclavian Artery</text>
<text x="291" y="355" textLength="58" lengthAdjust="spacingAndGlyphs">Inferior Cardiac Nerve</text>
<text x="243" y="541" textLength="15" lengthAdjust="spacingAndGlyphs">Celiac</text>
<text x="262" y="685" font-size="4">Superior</text>
<text x="262" y="690" font-size="4">Mesenteric</text>
<text x="262" y="695" font-size="4">Ganglion</text>
<text x="243" y="743" font-size="4">Inferior</text>
<text x="243" y="748" font-size="4">Mesenteric</text>
<text x="243" y="753" font-size="4">Ganglion</text>
</g>

<!-- legend bottom -->
<g class="sr" font-size="11" fill="#333">
<text x="106" y="948" textLength="104" lengthAdjust="spacingAndGlyphs">Sympathetic - Yellow</text>
<text x="227" y="948" textLength="123" lengthAdjust="spacingAndGlyphs">Parasympathetic - Green</text>
<text x="367" y="948" textLength="113" lengthAdjust="spacingAndGlyphs">Cerebralspinal - White</text>
</g>

<!-- watermark -->
<text class="ss" transform="translate(8,816) rotate(-24)" font-size="39" fill="none" stroke="#e53030" stroke-width="0.9">s.com Copyright www.BodyOfElements.com Copyright www.BodyOfElements.com Copyright</text>
</svg>
</body></html>
